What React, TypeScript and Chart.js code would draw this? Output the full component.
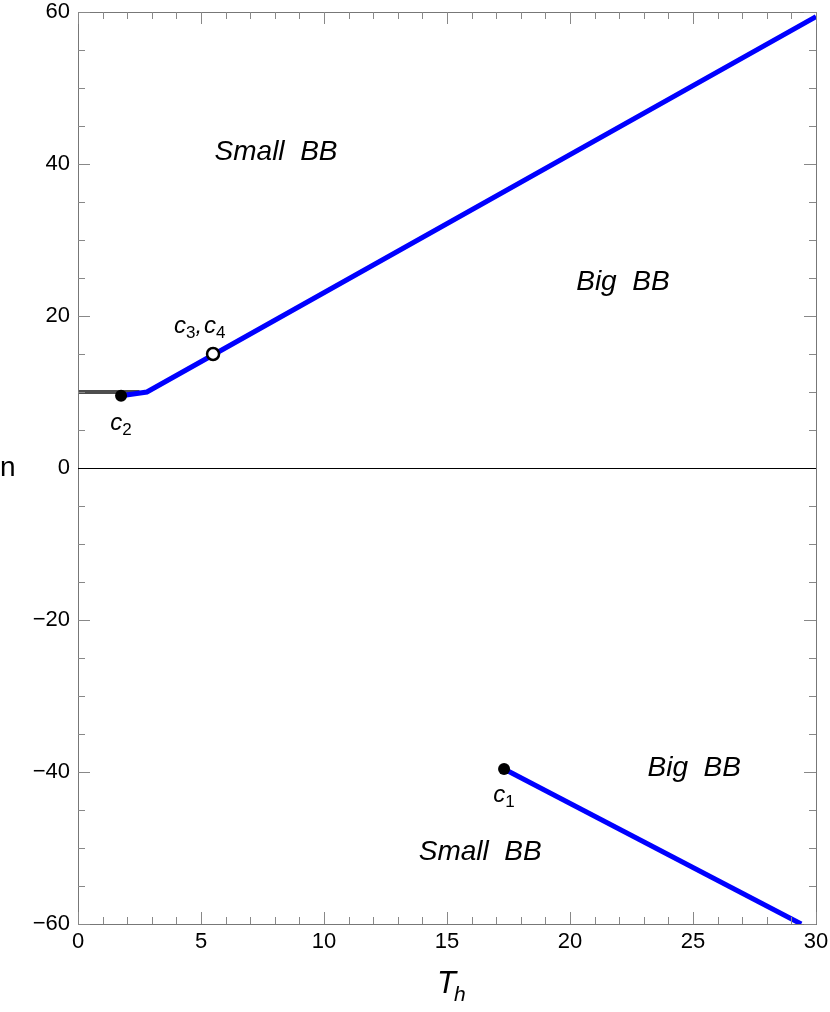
import React, { useEffect, useRef } from "react";
import { Chart, registerables } from "chart.js";

Chart.register(...registerables);

// Boundary curves (T_h, n)
const grayX = [0, 2.5];
const grayY = [10, 10];
const upperX = [1.75, 2.8, 30];
const upperY = [9.5, 10, 59.4];
const lowerX = [17.32, 29.4];
const lowerY = [-39.6, -60];

// Special points
const filledX = [1.75, 17.32];
const filledY = [9.5, -39.6];
const openX = [5.49];
const openY = [15];

// Axis ticks
const xTicks = [0, 5, 10, 15, 20, 25, 30];
const yTicks = [-60, -40, -20, 0, 20, 40, 60];

// Region labels (data coordinates of text centre)
const regionText = ["Small  BB", "Big  BB", "Big  BB", "Small  BB"];
const regionX = [8.05, 22.15, 25.05, 16.35];
const regionY = [41.5, 24.5, -39.5, -50.5];

// Point labels: subscripts, anchor
const ptLabelSubs = [["3", "4"], ["2"], ["1"]];
const ptLabelX = [4.95, 1.75, 17.32];
const ptLabelY = [18.5, 5.8, -43.1];

const zip = (xs: number[], ys: number[]) => xs.map((x, i) => ({ x, y: ys[i] }));

export default function App() {
  const ref = useRef<HTMLCanvasElement | null>(null);
  useEffect(() => {
    document.body.style.margin = "0";
    const canvas = ref.current!;
    const font = "'Liberation Sans', Arial, sans-serif";

    const decor = {
      id: "decor",
      afterDraw(chart: any) {
        const { ctx, chartArea: a, scales } = chart;
        const xs = scales.x, ys = scales.y;
        ctx.save();
        // frame
        ctx.strokeStyle = "#777";
        ctx.lineWidth = 1;
        ctx.strokeRect(a.left + 0.5, a.top + 0.5, a.right - a.left, a.bottom - a.top);
        // ticks
        ctx.strokeStyle = "#888";
        ctx.beginPath();
        for (let v = xs.min; v <= xs.max + 1e-9; v += 1) {
          const px = Math.round(xs.getPixelForValue(v)) + 0.5;
          const len = v % 5 === 0 ? 12 : 7;
          ctx.moveTo(px, a.bottom);
          ctx.lineTo(px, a.bottom - len);
          ctx.moveTo(px, a.top);
          ctx.lineTo(px, a.top + len);
        }
        for (let v = ys.min; v <= ys.max + 1e-9; v += 5) {
          const py = Math.round(ys.getPixelForValue(v)) + 0.5;
          const len = v % 20 === 0 ? 12 : 7;
          ctx.moveTo(a.left, py);
          ctx.lineTo(a.left + len, py);
          ctx.moveTo(a.right, py);
          ctx.lineTo(a.right - len, py);
        }
        ctx.stroke();

        // zero line
        ctx.strokeStyle = "#000";
        const y0 = Math.round(ys.getPixelForValue(0)) + 0.5;
        ctx.beginPath();
        ctx.moveTo(a.left, y0);
        ctx.lineTo(a.right, y0);
        ctx.stroke();

        // region labels
        ctx.fillStyle = "#000";
        ctx.textAlign = "center";
        ctx.textBaseline = "middle";
        ctx.font = `italic 28px ${font}`;
        regionText.forEach((t, i) => {
          ctx.fillText(t, xs.getPixelForValue(regionX[i]), ys.getPixelForValue(regionY[i]));
        });

        // point labels
        ptLabelSubs.forEach((subs, i) => {
          const cx = xs.getPixelForValue(ptLabelX[i]);
          const cy = ys.getPixelForValue(ptLabelY[i]);
          const parts: { t: string; sub: boolean }[] = [];
          subs.forEach((s, k) => {
            if (k > 0) parts.push({ t: ",", sub: false });
            parts.push({ t: "c", sub: false });
            parts.push({ t: s, sub: true });
          });
          const fMain = `italic 24px ${font}`;
          const fSub = `17px ${font}`;
          let w = 0;
          parts.forEach((p) => {
            ctx.font = p.sub ? fSub : fMain;
            w += ctx.measureText(p.t).width + (p.t === "," ? 2 : 0);
          });
          let x = cx - w / 2;
          ctx.textAlign = "left";
          ctx.textBaseline = "alphabetic";
          parts.forEach((p) => {
            ctx.font = p.sub ? fSub : fMain;
            ctx.fillText(p.t, x, cy + (p.sub ? 11 : 6));
            x += ctx.measureText(p.t).width + (p.t === "," ? 2 : 0);
          });
        });

        // axis titles
        ctx.textBaseline = "middle";
        ctx.textAlign = "left";
        ctx.font = `28px ${font}`;
        ctx.fillText("n", 0, ys.getPixelForValue(0));
        ctx.font = `italic 31px ${font}`;
        const tx = 437;
        ctx.fillText("T", tx, 984);
        const tw = ctx.measureText("T").width;
        ctx.font = `italic 21px ${font}`;
        ctx.fillText("h", tx + tw - 2, 995);
        ctx.restore();
      },
    };

    const fmt = (v: number) => (v < 0 ? "\u2212" + Math.abs(v) : String(v));

    const chart = new Chart(canvas, {
      type: "scatter",
      data: {
        datasets: [
          {
            data: zip(filledX, filledY),
            pointRadius: 6,
            pointBackgroundColor: "#000",
            pointBorderColor: "#000",
            pointBorderWidth: 0,
            showLine: false,
            order: 0,
          },
          {
            data: zip(openX, openY),
            pointRadius: 6,
            pointBackgroundColor: "#fff",
            pointBorderColor: "#000",
            pointBorderWidth: 2.5,
            showLine: false,
            order: 0,
          },
          {
            data: zip(upperX, upperY),
            showLine: true,
            borderColor: "#0000ff",
            borderWidth: 5,
            pointRadius: 0,
            order: 1,
          },
          {
            data: zip(lowerX, lowerY),
            showLine: true,
            borderColor: "#0000ff",
            borderWidth: 5,
            pointRadius: 0,
            order: 1,
          },
          {
            data: zip(grayX, grayY),
            showLine: true,
            borderColor: "#4d4d4d",
            borderWidth: 4,
            pointRadius: 0,
            order: 2,
          },
        ],
      },
      options: {
        animation: false,
        responsive: false,
        devicePixelRatio: 1,
        layout: { padding: { left: 0, right: 14, top: 12, bottom: 0 } },
        plugins: { legend: { display: false }, tooltip: { enabled: false } },
        scales: {
          x: {
            type: "linear",
            min: 0,
            max: 30,
            afterFit: (s: any) => {
              s.height = 88;
              s.paddingLeft = 0;
              s.paddingRight = 0;
            },
            afterBuildTicks: (s: any) => { s.ticks = xTicks.map((v) => ({ value: v })); },
            grid: { display: false, drawTicks: false },
            border: { display: false },
            ticks: {
              padding: 5,
              color: "#000",
              font: { family: font, size: 22 },
              callback: (v: any) => fmt(Number(v)),
              maxRotation: 0,
              autoSkip: false,
            },
          },
          y: {
            type: "linear",
            min: -60,
            max: 60,
            afterFit: (s: any) => {
              s.width = 78;
              s.paddingTop = 0;
              s.paddingBottom = 0;
            },
            afterBuildTicks: (s: any) => { s.ticks = yTicks.map((v) => ({ value: v })); },
            grid: { display: false, drawTicks: false },
            border: { display: false },
            ticks: {
              padding: 8,
              color: "#000",
              font: { family: font, size: 22 },
              callback: (v: any) => fmt(Number(v)),
              autoSkip: false,
            },
          },
        },
      },
      plugins: [decor],
    } as any);
    return () => chart.destroy();
  }, []);
  return <canvas ref={ref} width={830} height={1012} style={{ display: "block" }} />;
}
